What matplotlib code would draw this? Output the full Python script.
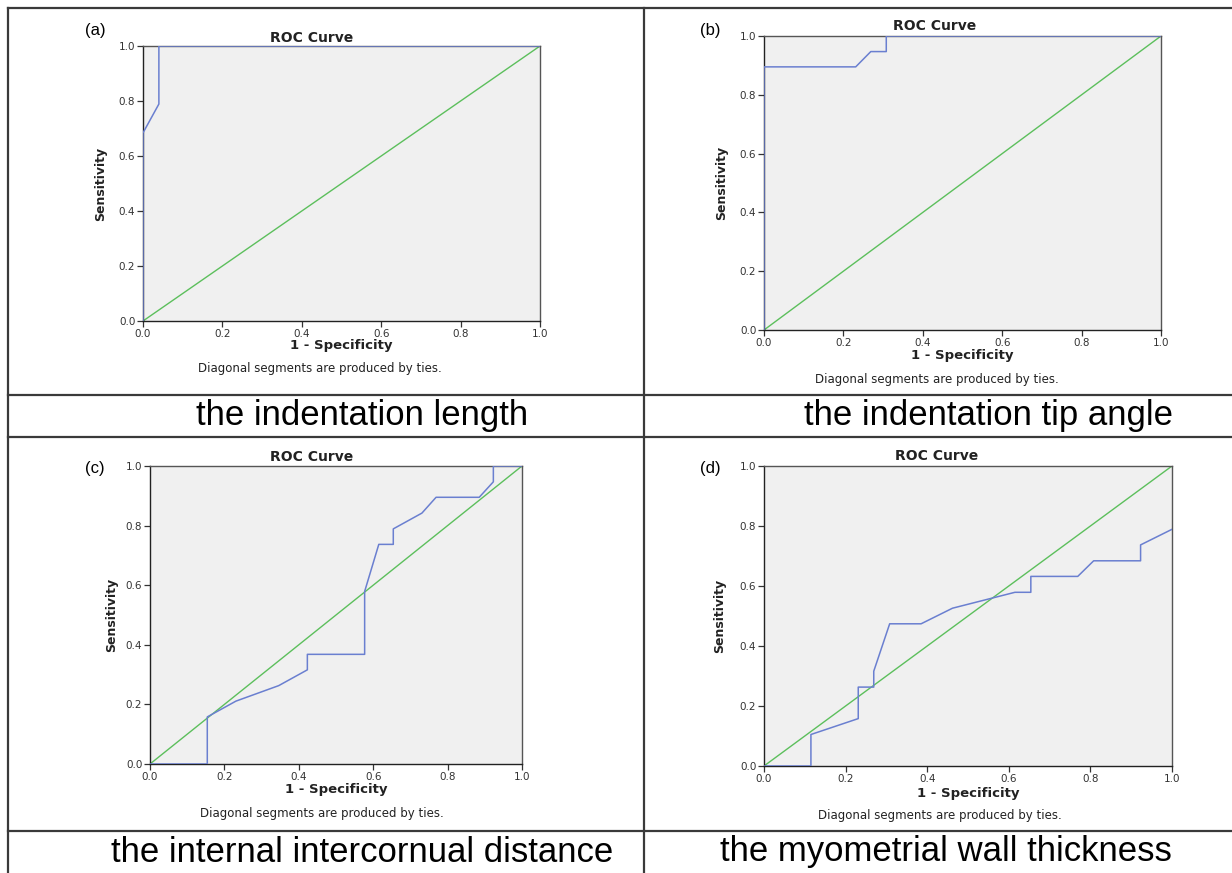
import matplotlib
matplotlib.use("Agg")
import matplotlib.pyplot as plt

W, H = 1232, 873

# ROC points (1 - specificity, sensitivity)
fpr_a = [0.0, 0.0, 0.04, 0.04, 1.0]
tpr_a = [0.0, 0.684, 0.789, 1.0, 1.0]

fpr_b = [0.0, 0.0, 0.231, 0.269, 0.308, 0.308, 1.0]
tpr_b = [0.0, 0.895, 0.895, 0.947, 0.947, 1.0, 1.0]

fpr_c = [0.0, 0.154, 0.154, 0.231, 0.346, 0.423, 0.423, 0.577, 0.577, 0.615,
         0.654, 0.654, 0.731, 0.769, 0.885, 0.923, 0.923, 1.0]
tpr_c = [0.0, 0.0, 0.158, 0.211, 0.263, 0.316, 0.368, 0.368, 0.579, 0.737,
         0.737, 0.789, 0.842, 0.895, 0.895, 0.947, 1.0, 1.0]

fpr_d = [0.0, 0.115, 0.115, 0.231, 0.231, 0.269, 0.269, 0.308, 0.385, 0.462,
         0.615, 0.654, 0.654, 0.769, 0.808, 0.923, 0.923, 1.0]
tpr_d = [0.0, 0.0, 0.105, 0.158, 0.263, 0.263, 0.316, 0.474, 0.474, 0.526,
         0.579, 0.579, 0.632, 0.632, 0.684, 0.684, 0.737, 0.789]

letters = ["(a)", "(b)", "(c)", "(d)"]
captions = ["the indentation length", "the indentation tip angle",
            "the internal intercornual distance", "the myometrial wall thickness"]
ticks = [0.0, 0.2, 0.4, 0.6, 0.8, 1.0]
tick_labels = ["0.0", "0.2", "0.4", "0.6", "0.8", "1.0"]

def fx(x):
    return x / W

def fy(y):
    return 1 - y / H

fig = plt.figure(figsize=(W / 100, H / 100), dpi=100)
fig.patch.set_facecolor("white")

# table frame
frame = dict(color="#3a3a3a", lw=1.6)
for y in [8, 395, 437, 831]:
    fig.add_artist(plt.Line2D([fx(8), 1], [fy(y), fy(y)], transform=fig.transFigure, **frame))
for x in [8, 644]:
    fig.add_artist(plt.Line2D([fx(x), fx(x)], [fy(8), 0], transform=fig.transFigure, **frame))

# per panel layout in pixels:
# x0, x1, top, bottom, xlabel y, note y, ylabel x, (title x, y), note x, letter xy, caption xy
panels = [
    (143, 540, 46, 321, 346, 368, 101, (312, 38), 320, (95, 30), (362, 416)),
    (764, 1161, 36, 330, 356, 380, 722, (935, 26), 937, (710, 30), (988, 416)),
    (150, 522, 466, 764, 790, 813, 112, (312, 457), 322, (95, 468), (362, 852)),
    (764, 1172, 466, 766, 793, 816, 720, (937, 456), 940, (710, 468), (946, 852)),
]
data = [(fpr_a, tpr_a), (fpr_b, tpr_b), (fpr_c, tpr_c), (fpr_d, tpr_d)]

for i, p in enumerate(panels):
    x0, x1, top, bot, xl_y, note_y, yl_x, t_xy, note_x, let_xy, cap_xy = p
    ax = fig.add_axes([fx(x0), fy(bot), (x1 - x0) / W, (bot - top) / H])
    ax.set_facecolor("#f0f0f0")
    fpr, tpr = data[i]
    ax.plot([0, 1], [0, 1], color="#5cbf5c", lw=1.0, zorder=2)
    ax.plot(fpr, tpr, color="#6a7fd0", lw=1.1, zorder=3)
    ax.set_xlim(0, 1)
    ax.set_ylim(0, 1)
    ax.set_xticks(ticks)
    ax.set_xticklabels(tick_labels)
    ax.set_yticks(ticks)
    ax.set_yticklabels(tick_labels)
    ax.tick_params(labelsize=7.5, length=4, width=0.9, color="#333333", pad=1.5,
                   labelcolor="#333333")
    for s in ax.spines.values():
        s.set_color("#555555")
        s.set_linewidth(1.0)
    ax.spines["left"].set_color("#222222")
    ax.spines["bottom"].set_color("#222222")
    cx = (x0 + x1) / 2
    fig.text(fx(t_xy[0]), fy(t_xy[1]), "ROC Curve", ha="center", va="center",
             fontsize=10, fontweight="bold", color="#222222")
    fig.text(fx(cx), fy(xl_y), "1 - Specificity", ha="center", va="center",
             fontsize=9.5, fontweight="bold", color="#222222")
    fig.text(fx(note_x), fy(note_y), "Diagonal segments are produced by ties.",
             ha="center", va="center", fontsize=8.5, color="#222222")
    fig.text(fx(yl_x), fy((top + bot) / 2), "Sensitivity", ha="center", va="center",
             rotation=90, fontsize=9, fontweight="bold", color="#222222")
    fig.text(fx(let_xy[0]), fy(let_xy[1]), letters[i], ha="center", va="center",
             fontsize=12, family="Liberation Sans")
    fig.text(fx(cap_xy[0]), fy(cap_xy[1]), captions[i], ha="center", va="center",
             fontsize=25, family="Liberation Sans")

fig.savefig("out.png", dpi=100)
